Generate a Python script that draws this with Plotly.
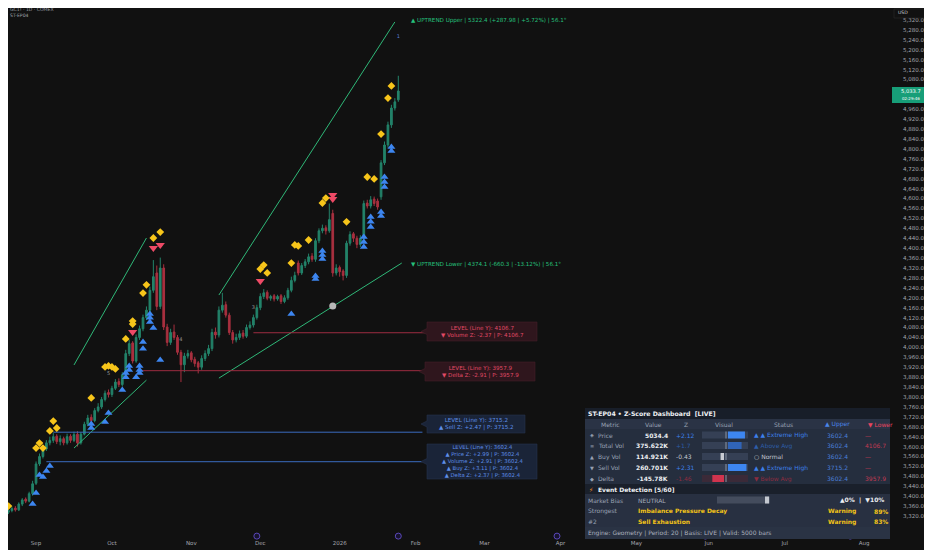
import pandas as pd
import plotly.graph_objects as go

# daily candles, one per weekday from 2025-08-19
OPEN = [3325, 3335, 3342, 3352, 3345, 3368, 3388, 3380, 3410, 3452,
        3530, 3560, 3590, 3615, 3625, 3642, 3620, 3632, 3615, 3642,
        3625, 3650, 3615, 3650, 3690, 3718, 3705, 3745, 3760, 3790,
        3818, 3810, 3835, 3862, 3850, 3890, 3975, 4018, 3945, 4040,
        4075, 4120, 4150, 4230, 4300, 4165, 4320, 4082, 4020, 4062,
        4040, 3980, 3930, 3965, 3978, 3952, 3938, 3920, 3955, 3975,
        3995, 4062, 4050, 4150, 4172, 4130, 4060, 4030, 4040, 4058,
        4045, 4080, 4090, 4120, 4160, 4205, 4222, 4198, 4208, 4195,
        4208, 4185, 4200, 4230, 4270, 4340, 4300, 4330, 4345, 4368,
        4355, 4430, 4470, 4482, 4470, 4540, 4300, 4322, 4308, 4290,
        4420, 4458, 4440, 4415, 4440, 4582, 4570, 4598, 4590, 4607,
        4744, 4816, 4897, 4965, 4998]
HIGH = [3345, 3350, 3358, 3360, 3375, 3392, 3395, 3418, 3462, 3540,
        3572, 3600, 3626, 3640, 3655, 3650, 3645, 3640, 3652, 3650,
        3660, 3662, 3658, 3700, 3728, 3730, 3755, 3775, 3800, 3826,
        3830, 3845, 3872, 3875, 3900, 3990, 4030, 4025, 4052, 4088,
        4132, 4165, 4245, 4352, 4330, 4362, 4335, 4095, 4075, 4092,
        4050, 3990, 3978, 3990, 3985, 3962, 3945, 3968, 3988, 4010,
        4075, 4080, 4165, 4220, 4185, 4140, 4070, 4055, 4068, 4070,
        4092, 4105, 4132, 4172, 4218, 4235, 4230, 4212, 4215, 4212,
        4215, 4210, 4240, 4285, 4305, 4350, 4340, 4356, 4378, 4380,
        4440, 4480, 4495, 4492, 4580, 4555, 4335, 4330, 4315, 4430,
        4468, 4465, 4450, 4452, 4592, 4595, 4610, 4608, 4600, 4755,
        4830, 4910, 4978, 5005, 5095]
LOW = [3315, 3328, 3335, 3338, 3340, 3360, 3372, 3375, 3402, 3445,
       3522, 3552, 3582, 3605, 3615, 3610, 3605, 3605, 3608, 3615,
       3618, 3600, 3608, 3645, 3682, 3692, 3698, 3738, 3752, 3782,
       3798, 3800, 3828, 3840, 3842, 3880, 3965, 3935, 3938, 4030,
       4065, 4110, 4140, 4220, 4150, 4155, 4070, 4005, 4010, 4030,
       3970, 3860, 3900, 3955, 3940, 3922, 3895, 3910, 3945, 3965,
       3985, 4035, 4040, 4140, 4120, 4050, 4015, 4020, 4030, 4035,
       4038, 4072, 4080, 4112, 4150, 4195, 4190, 4188, 4185, 4188,
       4175, 4178, 4192, 4222, 4262, 4290, 4292, 4320, 4335, 4345,
       4345, 4420, 4460, 4455, 4462, 4285, 4290, 4285, 4270, 4280,
       4410, 4425, 4400, 4405, 4430, 4560, 4560, 4570, 4555, 4595,
       4735, 4805, 4885, 4955, 4990]
CLOSE = [3335, 3342, 3350, 3345, 3368, 3385, 3380, 3410, 3450, 3530,
         3560, 3590, 3615, 3625, 3640, 3620, 3632, 3615, 3640, 3625,
         3648, 3615, 3650, 3690, 3715, 3705, 3745, 3760, 3790, 3815,
         3810, 3835, 3860, 3850, 3890, 3975, 4015, 3945, 4040, 4075,
         4120, 4150, 4230, 4285, 4165, 4320, 4082, 4020, 4060, 4040,
         3980, 3930, 3965, 3975, 3950, 3935, 3920, 3955, 3975, 3995,
         4060, 4050, 4150, 4170, 4130, 4060, 4030, 4040, 4055, 4045,
         4080, 4090, 4120, 4160, 4205, 4220, 4198, 4205, 4195, 4205,
         4185, 4200, 4230, 4270, 4290, 4300, 4330, 4345, 4365, 4355,
         4430, 4470, 4480, 4470, 4515, 4300, 4320, 4305, 4290, 4420,
         4455, 4440, 4415, 4440, 4580, 4570, 4595, 4580, 4566, 4744,
         4816, 4897, 4965, 4990, 5033.7]

DATES = pd.bdate_range("2025-08-19", "2026-08-31")

# trend channel lines (bar index, price)
UP1_IDX, UP1_PX = [20, 41], [3929, 4441]
LO1_IDX, LO1_PX = [20, 41], [3594, 3868]
UP2_IDX, UP2_PX = [62, 113], [4211, 5312]
LO2_IDX, LO2_PX = [62, 115], [3876, 4340]

# horizontal levels: start index, end index, price
RED_LEVELS = [(72, 122, 4059), (39, 122, 3906)]
BLUE_LEVELS = [(14, 121, 3658), (12, 121, 3539)]

# signal shapes (bar index, price)
DIAMOND_IDX = [1, 14, 13, 15, 10, 9, 11, 25, 29, 30, 31, 32, 35, 37, 37, 40, 41,
               43, 45, 75, 74, 76, 83, 84, 85, 88, 93, 92, 99, 105, 107, 109, 111, 112]
DIAMOND_PX = [3360, 3703, 3663, 3675, 3614, 3594, 3594, 3796, 3921, 3925, 3921, 3913,
              4034, 4106, 4094, 4219, 4252, 4441, 4465, 4332, 4316, 4300, 4340, 4413,
              4409, 4433, 4602, 4582, 4506, 4687, 4679, 4860, 5005, 5054]
DOWN_IDX = [37, 43, 45, 74, 95, 95]
DOWN_PX = [4062, 4401, 4413, 4268, 4614, 4598]
UPTRI_IDX = [8, 9, 10, 11, 12, 13, 25, 25, 29, 30, 34, 35, 35, 36, 36, 38, 39, 39, 39,
             40, 40, 42, 42, 42, 43, 45, 83, 90, 90, 92, 92, 92, 104, 104, 104,
             106, 106, 106, 109, 109, 110, 110, 110, 112, 112]
UPTRI_PX = [3368, 3413, 3485, 3477, 3502, 3522, 3691, 3675, 3699, 3735, 3828, 3880,
            3897, 3925, 3909, 3880, 3925, 3909, 3897, 4022, 3994, 4135, 4119, 4102,
            4078, 3949, 4135, 4288, 4276, 4389, 4372, 4356, 4445, 4425, 4405, 4526,
            4506, 4485, 4546, 4530, 4687, 4667, 4647, 4808, 4792]
PIVOT_IDX, PIVOT_PX = [95], [4167]
WAVE_LABELS = ["5", "4", "3", "1"]
WAVE_IDX = [30, 51, 72, 114]
WAVE_PX = [3893, 4030, 4159, 5251]
EVENT_IDX = [73, 114, 160, 203, 245]
EVENT_PX = [3239] * 5

# month ticks
TICK_DATES = ["2025-09-01", "2025-10-01", "2025-11-03", "2025-12-01", "2026-01-01",
              "2026-02-02", "2026-03-02", "2026-04-01", "2026-05-01", "2026-06-01",
              "2026-07-01", "2026-08-03"]
TICK_TEXT = ["Sep", "Oct", "Nov", "Dec", "2026", "Feb", "Mar", "Apr", "May", "Jun", "Jul", "Aug"]
# price scale every 40; the two under the last-price tag are hidden like on the chart
PRICE_TICKS = [v for v in range(3320, 5321, 40) if v not in (5000, 5040)]

# dashboard contents
METRICS = ["Price", "Total Vol", "Buy Vol", "Sell Vol", "Delta"]
METRIC_ICONS = ["◈", "≡", "▲", "▼", "◆"]
METRIC_VALUES = ["5034.4", "375.622K", "114.921K", "260.701K", "-145.78K"]
METRIC_Z = [2.12, 1.7, -0.43, 2.31, -1.46]
METRIC_Z_TEXT = ["+2.12", "+1.7", "-0.43", "+2.31", "-1.46"]
METRIC_STATUS = ["▲ ▲ Extreme High", "▲ Above Avg", "○ Normal", "▲ ▲ Extreme High", "▼ Below Avg"]
METRIC_UPPER = ["3602.4", "3602.4", "3602.4", "3715.2", "3602.4"]
METRIC_LOWER = ["—", "4106.7", "—", "—", "3957.9"]
EVENTS = [("Strongest", "Imbalance Pressure Decay", "Warning", "89%"),
          ("#2", "Sell Exhaustion", "Warning", "83%")]

BG = "#111111"
GREEN = "#23836a"
RED = "#a8303f"
AXIS = "#a3a6ae"
FONT = "DejaVu Sans"

# the page puts the figure 8px in from the window corner, so the figure is
# 8px smaller and every screen position below is shifted back by 8px
OFF = 8
FW, FH = 932 - OFF, 550 - OFF
PW, PH = FW - 50, FH - 12  # plot area in pixels


def px(x):
    return (x - OFF) / PW


def py(y):
    return 1 - (y - OFF) / PH


def d(i):
    return DATES[i]


fig = go.Figure()
n = len(CLOSE)
fig.add_trace(go.Candlestick(
    x=DATES[:n], open=OPEN, high=HIGH, low=LOW, close=CLOSE,
    increasing=dict(line=dict(color=GREEN, width=1), fillcolor=GREEN),
    decreasing=dict(line=dict(color=RED, width=1), fillcolor=RED),
    whiskerwidth=0, showlegend=False, hoverinfo="skip"))

for xs, ys in [(UP1_IDX, UP1_PX), (LO1_IDX, LO1_PX), (UP2_IDX, UP2_PX), (LO2_IDX, LO2_PX)]:
    fig.add_trace(go.Scatter(x=[d(i) for i in xs], y=ys, mode="lines",
                             line=dict(color="#2fb878", width=1), showlegend=False))

for a, b, p in RED_LEVELS:
    fig.add_trace(go.Scatter(x=[d(a), d(b)], y=[p, p], mode="lines",
                             line=dict(color="#9c2c40", width=1), showlegend=False))
for a, b, p in BLUE_LEVELS:
    fig.add_trace(go.Scatter(x=[d(a), d(b)], y=[p, p], mode="lines",
                             line=dict(color="#3a6cc0", width=1), showlegend=False))

fig.add_trace(go.Scatter(x=[d(i) for i in UPTRI_IDX], y=UPTRI_PX, mode="markers",
                         marker=dict(symbol="triangle-up", size=7, color="#3d86f0"), showlegend=False))
fig.add_trace(go.Scatter(x=[d(i) for i in DOWN_IDX], y=DOWN_PX, mode="markers",
                         marker=dict(symbol="triangle-down", size=8, color="#ee4a66"), showlegend=False))
fig.add_trace(go.Scatter(x=[d(i) for i in DIAMOND_IDX], y=DIAMOND_PX, mode="markers",
                         marker=dict(symbol="diamond", size=6, color="#f7c51a"), showlegend=False))
fig.add_trace(go.Scatter(x=[d(i) for i in PIVOT_IDX], y=PIVOT_PX, mode="markers",
                         marker=dict(symbol="circle", size=7, color="#b8b8b8"), showlegend=False))
fig.add_trace(go.Scatter(x=[d(i) for i in WAVE_IDX], y=WAVE_PX, mode="text", text=WAVE_LABELS,
                         textfont=dict(size=5, family=FONT,
                                       color=["#9a9a9a", "#9a9a9a", "#9a9a9a", "#5b7fd6"]),
                         showlegend=False))
fig.add_trace(go.Scatter(x=[d(i) for i in EVENT_IDX], y=EVENT_PX, mode="markers", cliponaxis=False,
                         marker=dict(symbol="circle", size=6, color="#17132e",
                                     line=dict(color="#5a48b8", width=1)), showlegend=False))


def text(x, y, s, size=6, color="#d1d4dc", anchor="left", bold=False):
    if bold:
        s = "<b>" + s + "</b>"
    fig.add_annotation(x=px(x), y=py(y), xref="paper", yref="paper", text=s, showarrow=False,
                       xanchor=anchor, yanchor="middle", borderpad=0, align="center",
                       font=dict(size=size, color=color, family=FONT))


def rect(x0, y0, x1, y1, color):
    fig.add_shape(type="rect", xref="paper", yref="paper", x0=px(x0), x1=px(x1),
                  y0=py(y1), y1=py(y0), fillcolor=color, line=dict(width=0), layer="above")


def tag(x0, y0, x1, y1, fill, edge):
    ym = (y0 + y1) / 2
    path = (f"M {px(x0)},{py(y0)} L {px(x1)},{py(y0)} L {px(x1)},{py(y1)} "
            f"L {px(x0)},{py(y1)} L {px(x0)},{py(ym + 3)} L {px(x0 - 6)},{py(ym)} "
            f"L {px(x0)},{py(ym - 3)} Z")
    fig.add_shape(type="path", xref="paper", yref="paper", path=path, fillcolor=fill,
                  line=dict(color=edge, width=0.6), layer="above")


# header
text(9, 10, "GC1! · 1D · COMEX", size=4.6, color="#9ea1a9")
text(9, 16, "ST-EP04", size=4.6, color="#9ea1a9")

# channel labels
text(410, 21, "▲ UPTREND Upper | 5322.4 (+287.98 | +5.72%) | 56.1°", size=5.6, color="#26c07c")
text(410, 264, "▼ UPTREND Lower | 4374.1 (-660.3 | -13.12%) | 56.1°", size=5.6, color="#26c07c")

# level tags
RED_TXT = "#e04a66"
BLUE_TXT = "#5f8fe8"
tag(427, 322, 537, 341, "#2f161d", "#45202a")
text(482, 332, "LEVEL (Line Y): 4106.7<br>▼ Volume Z: -2.37 | P: 4106.7", 5.6, RED_TXT, "center")
tag(425, 362, 535, 381, "#2f161d", "#45202a")
text(480, 371.5, "LEVEL (Line Y): 3957.9<br>▼ Delta Z: -2.91 | P: 3957.9", 5.6, RED_TXT, "center")
tag(427, 415, 525, 433, "#1a2438", "#26334d")
text(476, 424, "LEVEL (Line Y): 3715.2<br>▲ Sell Z: +2.47 | P: 3715.2", 5.6, BLUE_TXT, "center")
tag(427, 444, 537, 479, "#1a2438", "#26334d")
text(482, 461.5, "<br>".join(["LEVEL (Line Y): 3602.4", "▲ Price Z: +2.99 | P: 3602.4",
                              "▲ Volume Z: +2.91 | P: 3602.4", "▲ Buy Z: +3.11 | P: 3602.4",
                              "▲ Delta Z: +2.37 | P: 3602.4"]), 5.3, BLUE_TXT, "center")

# dashboard
TX0, TX1 = 585, 890
rect(TX0, 408, TX1, 419, "#181e29")
rect(TX0, 419, TX1, 429, "#2a3345")
rect(TX0, 429, TX1, 484, "#252e3e")
rect(TX0, 484, TX1, 494, "#1a202b")
rect(TX0, 494, TX1, 527, "#283041")
rect(TX0, 527, TX1, 539, "#2a3344")
text(587, 413.5, "ST-EP04 • Z-Score Dashboard  [LIVE]", 6.2, "#eef0f4", bold=True)
HDR = "#98a1b3"
for label, x, col in [("Metric", 610, HDR), ("Value", 653, HDR), ("Z", 686, HDR),
                      ("Visual", 724, HDR), ("Status", 783, HDR),
                      ("▲ Upper", 837, "#4a86e8"), ("▼ Lower", 880, "#e8455f")]:
    text(x, 424, label, 6, col, "center")

ROW_Y = [435, 445.5, 456.5, 467.5, 478.5]
for k, name in enumerate(METRICS):
    y = ROW_Y[k]
    z = METRIC_Z[k]
    if abs(z) >= 2:
        col = "#3d80ea"
    elif z >= 1:
        col = "#2d5da8"
    elif z <= -1:
        col = "#8c2c3f"
    else:
        col = "#c4c8d0"
    fill = "#d0344e" if z <= -1 else ("#3d86f0" if z >= 2 else ("#3064b8" if z >= 1 else "#c8ccd4"))
    text(589, y, METRIC_ICONS[k], 5, HDR)
    text(597, y, name, 6, HDR)
    text(669, y, METRIC_VALUES[k], 6, "#eceef2", "right", bold=True)
    text(675, y, METRIC_Z_TEXT[k], 6, col)
    track = "#3b2a38" if z <= -1 else "#354055"
    rect(702, y - 3.5, 748, y + 3.5, track)
    w = min(abs(z) * 8, 19)
    if z >= 0:
        rect(728, y - 3.5, 728 + w, y + 3.5, fill)
    else:
        rect(724 - w, y - 3.5, 724, y + 3.5, fill)
    rect(725.5, y - 3.5, 726.5, y + 3.5, "#8a93a6")
    text(753, y, METRIC_STATUS[k], 6, col)
    text(826, y, METRIC_UPPER[k], 6, "#4a7fd8")
    text(864, y, METRIC_LOWER[k], 6, "#c23a52")

text(588, 489, "⚡", 6, "#f08c2a")
text(597, 489, "Event Detection [5/60]", 6, "#eef0f4", bold=True)
text(587, 500, "Market Bias", 6, HDR)
text(637, 500, "NEUTRAL", 6, "#a4acbb")
rect(717, 496.5, 770, 503.5, "#444c5d")
rect(765, 496.5, 769, 503.5, "#c4c8d0")
text(885, 500, "▲0%  |  ▼10%", 6, "#eceef2", "right", bold=True)
for k, (lab, name, level, pct) in enumerate(EVENTS):
    y = 511 + k * 10.5
    text(587, y, lab, 6, HDR)
    text(637, y, name, 6, "#f2c318", bold=True)
    text(827, y, level, 6, "#f2c318", bold=True)
    text(889, y, pct, 6, "#f2c318", "right", bold=True)
text(587, 532.5, "Engine: Geometry | Period: 20 | Basis: LIVE | Valid: 5000 bars", 6, "#aab0bd")

# right axis extras
rect(892, 87, 930, 103, "#179e78")
text(911, 95, "5,033.7<br><span style='font-size:4px'>02:29:46</span>", 5.2, "#ffffff", "center")
fig.add_shape(type="rect", xref="paper", yref="paper", x0=px(894), x1=px(926), y0=py(18), y1=py(9),
              line=dict(color="#2c2c2c", width=0.6), fillcolor=BG)
text(897, 13, "USD", 4.6, "#c8cad0")

fig.update_layout(
    width=FW, height=FH,
    margin=dict(l=0, r=50, t=0, b=12),
    paper_bgcolor=BG, plot_bgcolor=BG,
    showlegend=False,
    xaxis=dict(type="date", range=["2025-08-19 20:53", "2026-08-10 04:48"],
               rangebreaks=[dict(bounds=["sat", "mon"])],
               tickvals=TICK_DATES, ticktext=TICK_TEXT, showgrid=False, zeroline=False,
               showline=False, ticks="", tickfont=dict(size=5.5, color=AXIS, family=FONT),
               rangeslider=dict(visible=False)),
    yaxis=dict(side="right", range=[3231.4, 5368.3], tickmode="array", tickvals=PRICE_TICKS,
               tickformat=",.1f", showgrid=False, zeroline=False, showline=False, ticks="",
               ticklabelstandoff=20, tickfont=dict(size=5.5, color=AXIS, family=FONT)),
)

fig.write_html("out.html")
